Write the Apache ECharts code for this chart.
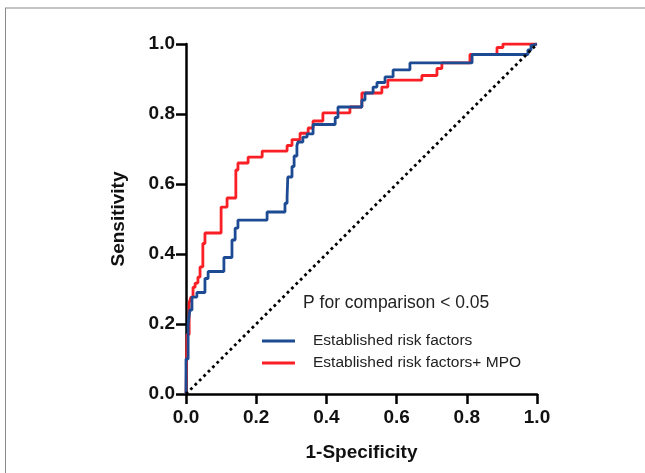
<!DOCTYPE html>
<html>
<head>
<meta charset="utf-8">
<script src="https://cdn.jsdelivr.net/npm/echarts@6/dist/echarts.min.js"></script>
<style>html,body{margin:0;padding:0;background:#fff}#c{width:645px;height:473px}</style>
</head>
<body>
<div id="c"></div>
<script>
var seriesNames = ['Established risk factors', 'Established risk factors+ MPO'];
var tickValues = [0, 0.2, 0.4, 0.6, 0.8, 1.0];
var blueX = [0, 0.0, 0.006, 0.011, 0.017, 0.031, 0.054, 0.063, 0.108, 0.131, 0.14, 0.148, 0.231, 0.282, 0.288, 0.29, 0.302, 0.308, 0.316, 0.319, 0.333, 0.345, 0.362, 0.425, 0.433, 0.501, 0.51, 0.533, 0.544, 0.567, 0.59, 0.638, 0.815, 0.974, 0.983, 0.989, 1.0];
var blueY = [0, 0.1, 0.2, 0.24, 0.277, 0.29, 0.33, 0.35, 0.39, 0.44, 0.474, 0.497, 0.52, 0.545, 0.563, 0.62, 0.65, 0.68, 0.71, 0.72, 0.734, 0.743, 0.77, 0.79, 0.82, 0.84, 0.86, 0.877, 0.89, 0.906, 0.926, 0.946, 0.97, 0.983, 0.997, 1.0, 1.0];
var redX = [0, 0.003, 0.009, 0.014, 0.02, 0.026, 0.034, 0.04, 0.048, 0.054, 0.1, 0.117, 0.142, 0.148, 0.177, 0.217, 0.288, 0.302, 0.325, 0.348, 0.362, 0.39, 0.467, 0.501, 0.558, 0.575, 0.672, 0.715, 0.729, 0.809, 0.886, 0.903, 1.0];
var redY = [0, 0.17, 0.26, 0.277, 0.305, 0.317, 0.334, 0.363, 0.43, 0.46, 0.534, 0.56, 0.64, 0.66, 0.677, 0.694, 0.71, 0.727, 0.745, 0.76, 0.78, 0.803, 0.82, 0.86, 0.877, 0.897, 0.91, 0.93, 0.946, 0.97, 0.99, 1.0, 1.0];
var diagX = [0, 1];
var diagY = [0, 1];
var annotation = 'P for comparison < 0.05';

function pairs(xs, ys){ return xs.map(function(x,i){ return [x, ys[i]]; }); }
var FONT = '"Liberation Sans", Arial, sans-serif';
var BLUE = '#1d4b93', RED = '#fa1e25';

var chart = echarts.init(document.getElementById('c'), null, {renderer:'canvas'});
chart.setOption({
  animation: false,
  backgroundColor: '#fff',
  grid: {left: 186, right: 108, top: 44, bottom: 79, containLabel: false},
  title: {
    text: annotation, left: 298, top: 289,
    textStyle: {fontFamily: FONT, fontSize: 17.5, fontWeight: 'normal', color: '#222'}
  },
  legend: {
    orient: 'vertical', left: 257, top: 328, itemGap: 6,
    itemWidth: 33, itemHeight: 3, icon: 'rect',
    data: [seriesNames[0], seriesNames[1]],
    textStyle: {fontFamily: FONT, fontSize: 15.5, color: '#222', padding: [0,0,0,13]}
  },
  xAxis: {
    type: 'value', min: 0, max: 1, interval: 0.2,
    name: '1-Specificity', nameLocation: 'middle', nameGap: 49,
    nameTextStyle: {fontFamily: FONT, fontSize: 19, fontWeight: 'bold', color: '#111'},
    axisLine: {lineStyle: {color: '#000', width: 2.5}},
    axisTick: {length: 10, lineStyle: {color: '#000', width: 2.5}},
    splitLine: {show: false},
    axisLabel: {margin: 14, fontFamily: FONT, fontSize: 19, fontWeight: 'bold', color: '#111',
      formatter: function(v){ return v.toFixed(1); }}
  },
  yAxis: {
    type: 'value', min: 0, max: 1, interval: 0.2,
    name: 'Sensitivity', nameLocation: 'middle', nameGap: 58,
    nameTextStyle: {fontFamily: FONT, fontSize: 19, fontWeight: 'bold', color: '#111'},
    axisLine: {show: true, lineStyle: {color: '#000', width: 2.5}},
    axisTick: {show: true, length: 10, lineStyle: {color: '#000', width: 2.5}},
    splitLine: {show: false},
    axisLabel: {margin: 11, fontFamily: FONT, fontSize: 19, fontWeight: 'bold', color: '#111',
      formatter: function(v){ return v.toFixed(1); }}
  },
  graphic: [
    {type: 'line', shape: {x1: 5, y1: 8, x2: 645, y2: 8}, style: {stroke: '#8a8a8a', lineWidth: 1}},
    {type: 'line', shape: {x1: 5.5, y1: 8, x2: 5.5, y2: 473}, style: {stroke: '#8a8a8a', lineWidth: 1}}
  ],
  series: [
    {name: seriesNames[1], type: 'line', step: 'end', showSymbol: false, symbol: 'none',
      data: pairs(redX, redY), itemStyle: {color: RED},
      lineStyle: {color: RED, width: 2.8}, z: 2},
    {name: seriesNames[0], type: 'line', step: 'end', showSymbol: false, symbol: 'none',
      data: pairs(blueX, blueY), itemStyle: {color: BLUE},
      lineStyle: {color: BLUE, width: 2.8}, z: 3},
    {name: 'diag', type: 'line', showSymbol: false, symbol: 'none',
      data: pairs(diagX, diagY),
      lineStyle: {color: '#000', width: 2.8, type: [2.8, 3.4]}, z: 4}
  ]
});
</script>
</body>
</html>
